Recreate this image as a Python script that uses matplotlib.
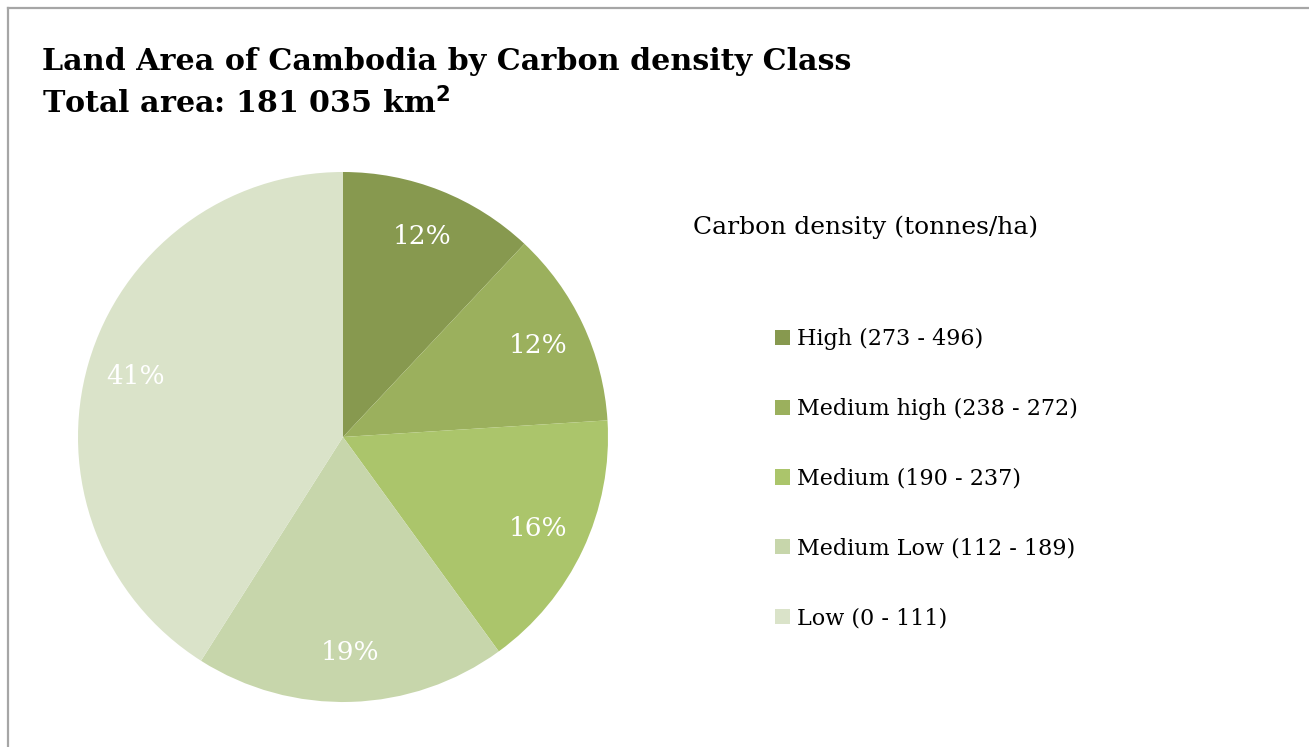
import matplotlib
matplotlib.use('Agg')
import matplotlib.pyplot as plt
from matplotlib.lines import Line2D

# ── Data ─────────────────────────────────────────────────────────────────────
classes = ["High (273 - 496)", "Medium high (238 - 272)", "Medium (190 - 237)",
           "Medium Low (112 - 189)", "Low (0 - 111)"]
shares = [12, 12, 16, 19, 41]
colors = ["#87994F", "#9BB05D", "#ABC56B", "#C7D6AB", "#DAE3C9"]

plt.rcParams['font.family'] = ['DejaVu Serif']

fig = plt.figure(figsize=(13.09, 7.47), dpi=100)

# chart frame (only top and left edges are visible)
fig.add_artist(Line2D([8/1309, 8/1309], [0, 1 - 8/747], transform=fig.transFigure,
                      color="#a6a6a6", lw=1.6))
fig.add_artist(Line2D([8/1309, 1], [1 - 8/747, 1 - 8/747], transform=fig.transFigure,
                      color="#a6a6a6", lw=1.6))

# ── Title ────────────────────────────────────────────────────────────────────
fig.text(42/1309, 1 - 70/747, "Land Area of Cambodia by Carbon density Class",
         fontsize=21.7, fontweight="bold", ha="left", va="baseline")
fig.text(42/1309, 1 - 113/747, r"Total area: 181 035 km$^{\mathbf{2}}$",
         fontsize=21.7, fontweight="bold", ha="left", va="baseline")

# ── Pie ──────────────────────────────────────────────────────────────────────
ax = fig.add_axes([78/1309, 45/747, 530/1309, 530/747])
wedges, _, autotexts = ax.pie(shares, colors=colors, startangle=90, counterclock=False,
                              autopct="%d%%", pctdistance=0.815, radius=1.0,
                              wedgeprops=dict(linewidth=0))
for t in autotexts:
    t.set_color("white")
    t.set_fontsize(19)
ax.set_xlim(-1, 1)
ax.set_ylim(-1, 1)
ax.set_aspect("equal")
ax.axis("off")

# ── Legend ───────────────────────────────────────────────────────────────────
fig.text(693/1309, 1 - 227/747, "Carbon density (tonnes/ha)",
         fontsize=18, ha="left", va="center")
fig.legend(wedges, classes, loc="upper left", bbox_to_anchor=(775/1309, 1 - 328/747),
           frameon=False, fontsize=16, labelspacing=2.15, handlelength=0.68,
           handleheight=0.68, handletextpad=0.3, borderpad=0, borderaxespad=0)

fig.savefig("out.png", dpi=100)
